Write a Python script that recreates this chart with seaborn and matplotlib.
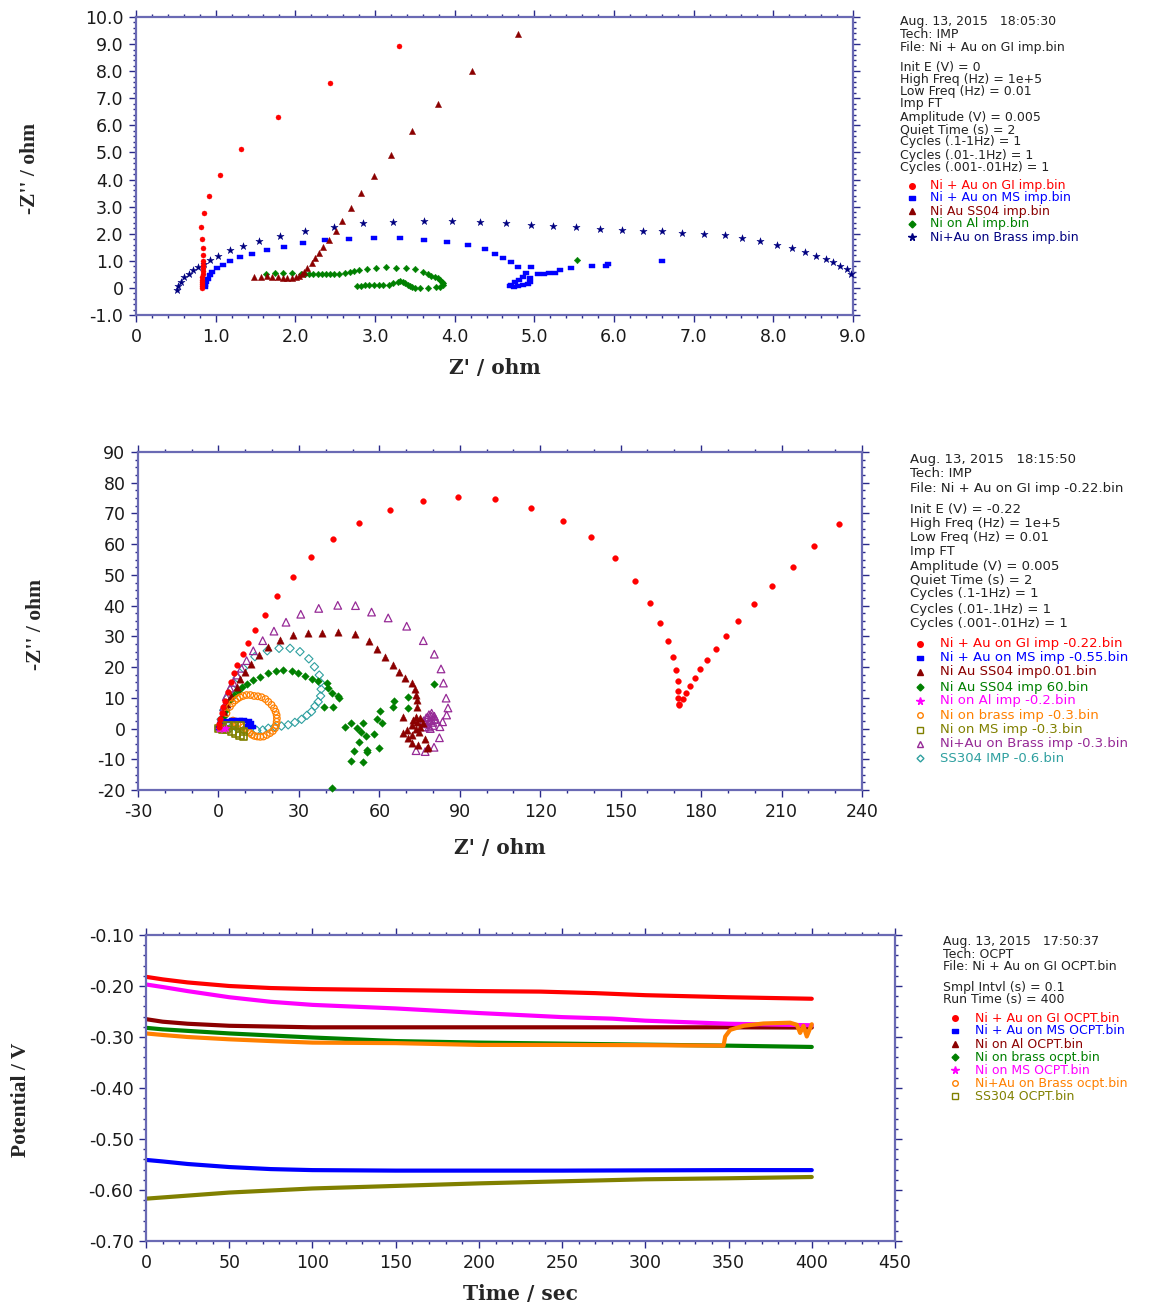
import matplotlib
matplotlib.use("Agg")
import matplotlib.pyplot as plt
from matplotlib.lines import Line2D
from matplotlib.ticker import MultipleLocator, FuncFormatter
import pandas as pd
import seaborn as sns

# ---------------- Nyquist plot 1 (Z' 0-9 ohm), (Z', -Z'') pairs ----------------
gi_imp = [(3.30, 8.93), (2.43, 7.57), (1.78, 6.30), (1.32, 5.13), (1.05, 4.16), (0.92, 3.38),
          (0.855, 2.75), (0.82, 2.24), (0.83, 1.80), (0.84, 1.48), (0.84, 1.21), (0.845, 1.00),
          (0.84, 0.86), (0.84, 0.73), (0.835, 0.61), (0.835, 0.50), (0.83, 0.40), (0.83, 0.31),
          (0.83, 0.22), (0.83, 0.14), (0.83, 0.07), (0.83, 0.0)]
ms_imp = [(0.86, 0.02), (0.87, 0.10), (0.88, 0.20), (0.90, 0.32), (0.93, 0.46), (0.96, 0.60),
          (1.02, 0.72), (1.09, 0.85), (1.18, 0.98), (1.30, 1.13), (1.46, 1.25), (1.64, 1.40),
          (1.86, 1.52), (2.10, 1.66), (2.37, 1.76), (2.67, 1.82), (2.99, 1.85), (3.31, 1.84),
          (3.61, 1.78), (3.90, 1.71), (4.17, 1.58), (4.38, 1.43), (4.50, 1.24), (4.61, 1.09),
          (4.71, 0.94), (4.80, 0.77), (4.96, 0.77), (4.90, 0.56), (4.86, 0.42), (4.81, 0.29),
          (4.76, 0.20), (4.71, 0.11), (4.70, 0.06), (4.74, 0.05), (4.80, 0.08), (4.86, 0.12),
          (4.92, 0.16), (4.95, 0.22), (4.94, 0.35), (5.04, 0.50), (5.12, 0.50), (5.19, 0.54),
          (5.26, 0.56), (5.32, 0.66), (5.46, 0.72), (5.73, 0.81), (5.90, 0.82), (5.92, 0.90),
          (6.60, 1.00)]
ss04_imp = [(1.48, 0.39), (1.57, 0.39), (1.64, 0.44), (1.71, 0.42), (1.78, 0.39), (1.84, 0.37),
            (1.90, 0.36), (1.96, 0.36), (2.01, 0.39), (2.05, 0.44), (2.08, 0.51), (2.11, 0.60),
            (2.15, 0.75), (2.21, 0.91), (2.25, 1.09), (2.30, 1.28), (2.35, 1.50), (2.42, 1.78),
            (2.51, 2.11), (2.59, 2.48), (2.70, 2.95), (2.83, 3.49), (2.99, 4.14), (3.20, 4.89),
            (3.46, 5.78), (3.79, 6.80), (4.22, 8.01), (4.79, 9.38)]
al_imp = [(1.63, 0.51), (1.74, 0.54), (1.85, 0.54), (1.96, 0.55), (2.07, 0.53), (2.12, 0.52),
          (2.17, 0.51), (2.22, 0.50), (2.28, 0.50), (2.33, 0.50), (2.38, 0.50), (2.43, 0.50),
          (2.48, 0.50), (2.55, 0.51), (2.62, 0.54), (2.68, 0.57), (2.74, 0.62), (2.80, 0.66),
          (2.90, 0.70), (3.01, 0.75), (3.14, 0.76), (3.26, 0.75), (3.39, 0.75), (3.50, 0.69),
          (3.60, 0.58), (3.66, 0.50), (3.70, 0.45), (3.75, 0.40), (3.79, 0.36), (3.82, 0.30),
          (3.84, 0.23), (3.85, 0.17), (3.85, 0.11), (3.82, 0.05), (3.77, 0.02), (3.67, 0.01),
          (3.56, 0.01), (3.50, 0.01), (3.47, 0.02), (3.44, 0.06), (3.41, 0.11), (3.38, 0.17),
          (3.35, 0.23), (3.32, 0.24), (3.29, 0.23), (3.23, 0.17), (3.17, 0.12), (3.10, 0.10),
          (3.05, 0.10), (2.99, 0.10), (2.93, 0.10), (2.87, 0.10), (2.82, 0.08), (2.78, 0.07),
          (5.54, 1.02)]
brass_imp = [(0.51, -0.08), (0.53, 0.07), (0.56, 0.23), (0.60, 0.41), (0.66, 0.53), (0.72, 0.66),
             (0.78, 0.76), (0.85, 0.88), (0.93, 1.03), (1.03, 1.19), (1.18, 1.39), (1.34, 1.55),
             (1.55, 1.74), (1.81, 1.93), (2.12, 2.11), (2.48, 2.26), (2.85, 2.38), (3.23, 2.44),
             (3.61, 2.47), (3.97, 2.47), (4.32, 2.44), (4.65, 2.41), (4.96, 2.32), (5.24, 2.29),
             (5.52, 2.24), (5.82, 2.17), (6.10, 2.14), (6.36, 2.11), (6.60, 2.09), (6.85, 2.04),
             (7.13, 1.99), (7.39, 1.94), (7.61, 1.84), (7.83, 1.73), (8.04, 1.58), (8.24, 1.46),
             (8.40, 1.31), (8.54, 1.18), (8.66, 1.07), (8.75, 0.94), (8.84, 0.81), (8.92, 0.69),
             (8.97, 0.51)]

# ---------------- Nyquist plot 2 (Z' -30-240 ohm) ----------------
gi_022 = [(0.1, 0.5), (0.3, 1.5), (0.7, 3.0), (1.2, 5.0), (1.8, 7.0), (2.5, 9.0), (3.5, 12.0),
          (4.5, 15.0), (5.7, 18.0), (7.0, 20.8), (9.0, 24.2), (11.0, 27.9), (13.7, 32.1),
          (17.2, 37.1), (21.9, 43.1), (27.7, 49.4), (34.5, 55.8), (42.8, 61.7), (52.5, 66.9),
          (63.9, 71.1), (76.2, 74.1), (89.5, 75.4), (103.3, 74.6), (116.7, 71.7), (128.6, 67.6),
          (139.0, 62.4), (147.9, 55.6), (155.4, 48.1), (161.0, 41.0), (164.8, 34.4), (167.6, 28.5),
          (169.4, 23.3), (170.8, 19.0), (171.2, 15.5), (171.5, 12.3), (171.5, 9.8), (171.6, 8.0),
          (171.9, 7.6), (173.1, 9.6), (174.4, 11.6), (175.9, 14.0), (177.6, 16.4), (179.7, 19.3),
          (182.3, 22.3), (185.6, 26.0), (189.3, 30.2), (193.9, 35.0), (199.8, 40.4), (206.5, 46.5),
          (214.2, 52.7), (222.2, 59.3), (231.3, 66.6)]
ms_055 = [(0.2, 0.3), (1.2, 2.2), (3.0, 2.6), (5.5, 2.8), (7.5, 2.9), (9.3, 2.8), (11.0, 2.3),
          (11.8, 1.7), (12.5, 0.4), (11.5, 0.8)]
ss04_001 = [(0.3, 1.0), (1.0, 3.0), (2.0, 5.5), (3.2, 8.0), (4.6, 10.5), (6.8, 13.6), (8.2, 16.0),
            (9.9, 18.3), (12.0, 21.0), (15.0, 23.9), (18.4, 26.6), (23.0, 28.8), (27.7, 30.3),
            (33.5, 31.0), (38.8, 31.2), (44.7, 31.5), (50.9, 30.8), (56.0, 28.6), (59.2, 25.9),
            (62.2, 23.2), (65.0, 20.7), (67.2, 18.5), (69.7, 16.6), (72.1, 14.9), (73.3, 12.8),
            (73.7, 10.9), (73.9, 9.3), (74.0, 7.0), (73.7, 3.7), (75.2, 3.3), (68.9, 3.9),
            (72.7, 2.8), (74.0, 2.2), (72.1, 1.2), (75.2, 0.6), (76.4, 1.7), (70.2, -0.5),
            (68.9, -1.5), (70.8, -3.2), (72.1, -4.8), (74.5, -5.3), (77.6, -6.4), (78.0, -6.0),
            (73.5, 0.0), (72.0, -2.0), (74.8, -1.0), (77.0, -3.5)]
ss04_60 = [(0.5, 1.0), (1.2, 2.5), (2.0, 4.0), (3.0, 6.0), (4.3, 9.3), (5.8, 11.0), (7.4, 12.3),
           (8.9, 13.6), (10.7, 14.5), (13.0, 15.8), (15.5, 16.9), (18.4, 18.0), (21.3, 18.8),
           (24.2, 19.1), (27.3, 18.8), (29.8, 18.0), (32.3, 17.1), (35.0, 16.2), (37.3, 15.5),
           (40.3, 14.7), (40.9, 13.1), (42.2, 11.5), (44.7, 10.6), (45.0, 10.0), (42.8, 7.1),
           (39.5, 7.1), (47.2, 0.4), (49.4, 1.9), (51.5, 0.1), (53.0, -1.2), (53.8, 1.7),
           (52.3, -4.3), (54.9, -2.4), (58.0, -1.9), (59.0, 3.0), (60.9, 1.7), (60.3, 5.8),
           (60.0, -6.4), (55.5, -7.0), (55.4, -7.5), (50.6, -7.3), (49.3, -10.5), (54.0, -11.0),
           (65.2, 7.1), (65.5, 9.0), (70.6, 6.6), (70.6, 10.2), (80.4, 14.4), (42.2, -19.2)]
al_02 = [(0.2, 0.0), (1.0, 0.3), (2.0, -0.2), (3.0, 0.1)]
brass_03 = [(0.5, 0.5), (1.5, 2.0), (3.0, 5.0), (4.3, 7.1), (5.2, 8.2), (6.2, 9.1), (7.1, 9.7),
            (8.0, 10.2), (9.2, 10.6), (10.5, 10.9), (11.9, 10.9), (13.3, 10.6), (14.7, 10.5),
            (16.1, 10.2), (17.5, 9.6), (18.6, 8.7), (19.8, 7.7), (20.7, 6.6), (21.3, 5.5),
            (21.7, 4.4), (21.8, 3.3), (21.7, 2.2), (21.5, 1.1), (21.1, 0.1), (20.3, -0.8),
            (19.2, -1.5), (18.0, -2.1), (16.8, -2.6), (15.6, -2.7), (14.5, -2.6), (13.4, -2.4),
            (12.5, -2.0), (11.7, -1.4), (11.0, -0.7), (10.2, -0.1), (9.4, 0.5), (8.2, 1.0),
            (7.0, 1.5), (6.2, 2.0), (5.4, 2.6)]
ms_03 = [(0.0, 0.0), (1.5, 0.8), (3.5, 1.0), (6.0, 1.0), (8.0, 0.8), (9.3, -1.0), (9.3, -2.5),
         (8.0, -2.3), (6.5, -1.5), (5.0, -0.8), (3.0, -0.3), (1.5, -0.1)]
au_brass_03 = [(0.3, 0.7), (1.0, 3.0), (2.0, 7.0), (2.9, 10.4), (4.3, 13.1), (5.5, 15.0),
               (7.0, 17.4), (8.6, 19.6), (10.5, 22.1), (13.0, 25.3), (16.5, 28.6), (20.7, 31.7),
               (25.2, 34.6), (30.7, 37.2), (37.4, 39.1), (44.5, 40.1), (51.1, 40.0), (57.1, 37.9),
               (63.3, 36.0), (70.2, 33.3), (76.4, 28.6), (80.5, 24.2), (83.0, 19.4), (83.9, 14.8),
               (84.9, 9.9), (85.6, 6.7), (85.1, 4.4), (83.6, 2.2), (82.6, 0.6), (82.4, -3.0),
               (80.4, -6.1), (77.1, -7.5), (73.7, -7.2), (79.5, 5.0), (80.5, 4.0), (78.0, 3.7),
               (77.0, 2.0), (79.0, 2.5), (80.0, 1.0), (78.5, 0.5), (81.0, 3.0), (76.5, 2.5),
               (77.5, 3.5), (78.5, 4.5), (79.5, 4.0), (80.5, 3.0), (78.0, 1.5), (77.0, 0.5),
               (79.0, 0.0), (80.0, 2.0)]
ss304_06 = [(0.3, 0.5), (1.0, 3.0), (2.0, 6.0), (3.5, 10.0), (5.0, 13.0), (7.0, 16.5), (9.3, 19.6),
            (13.6, 23.4), (18.2, 25.3), (22.6, 26.1), (26.7, 26.1), (30.4, 25.0), (33.7, 22.7),
            (35.8, 20.1), (37.6, 17.4), (38.0, 15.0), (38.3, 12.8), (38.1, 10.6), (37.2, 8.7),
            (36.0, 7.3), (34.7, 5.5), (33.0, 4.3), (31.0, 3.0), (28.5, 2.0), (26.0, 1.2),
            (23.5, 0.8), (21.0, 0.6), (18.6, 0.1), (16.5, -0.5), (14.3, -0.6), (11.8, -1.1),
            (9.4, -0.5), (7.0, 0.0), (4.5, 0.3), (2.5, 0.3)]

# ---------------- Open-circuit potential vs time (t in s, E in V) ----------------
gi_ocpt = [(0, -0.182), (10, -0.187), (25, -0.193), (50, -0.200), (75, -0.204), (100, -0.206),
           (150, -0.208), (200, -0.210), (237, -0.211), (270, -0.214), (300, -0.218),
           (350, -0.222), (400, -0.225)]
ms_ocpt = [(0, -0.541), (10, -0.544), (25, -0.549), (50, -0.555), (75, -0.559), (100, -0.561),
           (150, -0.562), (200, -0.562), (250, -0.562), (300, -0.5615), (350, -0.561), (400, -0.561)]
al_ocpt = [(0, -0.265), (10, -0.270), (25, -0.274), (50, -0.278), (75, -0.2795), (100, -0.281),
           (150, -0.281), (200, -0.281), (250, -0.281), (300, -0.281), (350, -0.281), (400, -0.2815)]
brass_ocpt = [(0, -0.282), (10, -0.285), (25, -0.288), (50, -0.293), (75, -0.297), (100, -0.301),
              (150, -0.308), (200, -0.311), (250, -0.313), (300, -0.315), (350, -0.317), (400, -0.3195)]
ni_ms_ocpt = [(0, -0.197), (10, -0.202), (25, -0.210), (50, -0.222), (75, -0.231), (100, -0.237),
              (150, -0.244), (200, -0.253), (250, -0.261), (280, -0.264), (300, -0.268),
              (350, -0.274), (400, -0.277)]
au_brass_ocpt = [(0, -0.293), (10, -0.296), (25, -0.300), (50, -0.3045), (75, -0.308), (100, -0.311),
                 (150, -0.312), (200, -0.3155), (250, -0.3155), (300, -0.316), (347, -0.317),
                 (348, -0.299), (351, -0.286), (359, -0.278), (371, -0.2735), (387, -0.272),
                 (391, -0.276), (393, -0.292), (395, -0.278), (397, -0.299), (399, -0.283),
                 (400, -0.275)]
ss304_ocpt = [(0, -0.617), (25, -0.611), (50, -0.605), (75, -0.601), (100, -0.597), (150, -0.592),
              (200, -0.587), (237, -0.584), (300, -0.579), (350, -0.577), (400, -0.5745)]

# ---------------- Styling ----------------
RED, BLUE, MAROON, GREEN = "#ff0000", "#0000ff", "#8b0000", "#008000"
NAVY, MAGENTA, ORANGE, OLIVE = "#000080", "#ff00ff", "#ff8000", "#808000"
PURPLE, TEAL = "#962a96", "#2fa0a0"
SPINE, TICK, INFO = "#6a6ab4", "#2a2a8a", "#222222"
RECT = [(-1.4, -0.9), (1.4, -0.9), (1.4, 0.9), (-1.4, 0.9), (-1.4, -0.9)]

sns.set_style("ticks")
plt.rcParams["font.family"] = ["DejaVu Sans"]

W, H = 1161, 1304
fig = plt.figure(figsize=(W / 100, H / 100), dpi=100)


def fx(px):
    return px / W


def fy(py):
    return 1 - py / H


def axes_px(left, right, top, bottom):
    return fig.add_axes([fx(left), fy(bottom), (right - left) / W, (bottom - top) / H])


def scatter(ax, pts, color, marker, size, filled=True, lw=0.9):
    df = pd.DataFrame(pts, columns=["x", "y"])
    if filled:
        sns.scatterplot(data=df, x="x", y="y", ax=ax, color=color, marker=marker, s=size,
                        edgecolor=color, linewidth=0.3, legend=False, zorder=3, clip_on=False)
    else:
        sns.scatterplot(data=df, x="x", y="y", ax=ax, color=color, marker=marker, s=size,
                        facecolor="none", edgecolor=color, linewidth=lw, legend=False, zorder=3,
                        clip_on=False)


def style_axes(ax, xmaj, xmin, ymaj, ymin, xfmt, yfmt):
    for sp in ax.spines.values():
        sp.set_visible(True)
        sp.set_color(SPINE)
        sp.set_linewidth(1.6)
    ax.xaxis.set_major_locator(MultipleLocator(xmaj))
    ax.xaxis.set_minor_locator(MultipleLocator(xmin))
    ax.yaxis.set_major_locator(MultipleLocator(ymaj))
    ax.yaxis.set_minor_locator(MultipleLocator(ymin))
    ax.xaxis.set_major_formatter(FuncFormatter(xfmt))
    ax.yaxis.set_major_formatter(FuncFormatter(yfmt))
    ax.tick_params(which="both", direction="out", top=True, right=True, bottom=True, left=True,
                   labeltop=False, labelright=False, color=TICK, width=1.0)
    ax.tick_params(which="major", length=5, pad=4, labelsize=12.5, labelcolor="#1a1a1a")
    ax.tick_params(which="minor", length=2.5)
    ax.grid(False)
    ax.set_facecolor("white")


def set_labels(ax, xl, yl, xpos, ypos):
    ax.set_xlabel(xl, family="DejaVu Serif", fontweight="bold", fontsize=14.5)
    ax.set_ylabel(yl, family="Liberation Serif", fontweight="bold", fontsize=15.5)
    ax.xaxis.set_label_coords(*xpos)
    ax.yaxis.set_label_coords(*ypos)
    ax.xaxis.label.set_va("center")
    ax.yaxis.label.set_va("center")


def info_block(x_px, lines, ys, entries, mx_px, tx_px, eys, size=9.0):
    for s, y in zip(lines, ys):
        fig.text(fx(x_px), fy(y), s, fontsize=size, color=INFO, va="center", ha="left")
    for (label, color, marker, filled, ms), y in zip(entries, eys):
        fig.add_artist(Line2D([fx(mx_px)], [fy(y)], transform=fig.transFigure, linestyle="none",
                              marker=marker, markersize=ms, color=color,
                              markerfacecolor=color if filled else "none",
                              markeredgecolor=color, markeredgewidth=1.0))
        fig.text(fx(tx_px), fy(y), label, fontsize=size, color=color, va="center", ha="left")


one_dec = lambda v, p: "0" if abs(v) < 1e-9 else f"{v:.1f}"
integer = lambda v, p: f"{v:.0f}"
two_dec = lambda v, p: f"{v:.2f}"

# ---------------- Panel 1 ----------------
ax1 = axes_px(136, 853, 17, 315)
scatter(ax1, al_imp, GREEN, "D", 11)
scatter(ax1, brass_imp, NAVY, "*", 30)
scatter(ax1, ms_imp, BLUE, RECT, 22)
scatter(ax1, ss04_imp, MAROON, "^", 20)
scatter(ax1, gi_imp, RED, "o", 13)
ax1.set_xlim(0, 9)
ax1.set_ylim(-1, 10)
style_axes(ax1, 1, 0.2, 1, 0.2, one_dec, one_dec)
set_labels(ax1, "Z' / ohm", "-Z'' / ohm", (0.5, -0.178), (-0.148, 0.49))

info_block(900,
           ["Aug. 13, 2015   18:05:30", "Tech: IMP", "File: Ni + Au on GI imp.bin",
            "Init E (V) = 0", "High Freq (Hz) = 1e+5", "Low Freq (Hz) = 0.01", "Imp FT",
            "Amplitude (V) = 0.005", "Quiet Time (s) = 2", "Cycles (.1-1Hz) = 1",
            "Cycles (.01-.1Hz) = 1", "Cycles (.001-.01Hz) = 1"],
           [22, 35, 47, 67, 79, 91, 104, 117, 130, 142, 155, 168],
           [("Ni + Au on GI imp.bin", RED, "o", True, 4),
            ("Ni + Au on MS imp.bin", BLUE, RECT, True, 5),
            ("Ni Au SS04 imp.bin", MAROON, "^", True, 4.5),
            ("Ni on Al imp.bin", GREEN, "D", True, 3.5),
            ("Ni+Au on Brass imp.bin", NAVY, "*", True, 5.5)],
           912, 930, [186, 198, 211, 224, 237], size=9.0)

# ---------------- Panel 2 ----------------
ax2 = axes_px(138, 862, 452, 790)
scatter(ax2, ss304_06, TEAL, "D", 18, filled=False, lw=0.8)
scatter(ax2, au_brass_03, PURPLE, "^", 30, filled=False, lw=0.9)
scatter(ax2, ss04_60, GREEN, "D", 15)
scatter(ax2, ss04_001, MAROON, "^", 28)
scatter(ax2, brass_03, ORANGE, "o", 22, filled=False, lw=0.9)
scatter(ax2, ms_055, BLUE, RECT, 28)
scatter(ax2, ms_03, OLIVE, "s", 28, filled=False, lw=1.2)
scatter(ax2, al_02, MAGENTA, "*", 30)
scatter(ax2, gi_022, RED, "o", 17)
ax2.set_xlim(-30, 240)
ax2.set_ylim(-20, 90)
style_axes(ax2, 30, 10, 10, 2.5, integer, integer)
set_labels(ax2, "Z' / ohm", "-Z'' / ohm", (0.5, -0.172), (-0.141, 0.49))

info_block(910,
           ["Aug. 13, 2015   18:15:50", "Tech: IMP", "File: Ni + Au on GI imp -0.22.bin",
            "Init E (V) = -0.22", "High Freq (Hz) = 1e+5", "Low Freq (Hz) = 0.01", "Imp FT",
            "Amplitude (V) = 0.005", "Quiet Time (s) = 2", "Cycles (.1-1Hz) = 1",
            "Cycles (.01-.1Hz) = 1", "Cycles (.001-.01Hz) = 1"],
           [459, 473, 488, 509, 523, 537, 551, 566, 580, 594, 609, 623],
           [("Ni + Au on GI imp -0.22.bin", RED, "o", True, 4),
            ("Ni + Au on MS imp -0.55.bin", BLUE, RECT, True, 5),
            ("Ni Au SS04 imp0.01.bin", MAROON, "^", True, 4.5),
            ("Ni Au SS04 imp 60.bin", GREEN, "D", True, 3.5),
            ("Ni on Al imp -0.2.bin", MAGENTA, "*", True, 5.5),
            ("Ni on brass imp -0.3.bin", ORANGE, "o", False, 4),
            ("Ni on MS imp -0.3.bin", OLIVE, "s", False, 4.5),
            ("Ni+Au on Brass imp -0.3.bin", PURPLE, "^", False, 4.5),
            ("SS304 IMP -0.6.bin", TEAL, "D", False, 3.5)],
           920, 940, [644, 658, 672, 687, 701, 715, 730, 744, 758], size=9.5)

# ---------------- Panel 3 ----------------
ax3 = axes_px(146, 895, 935, 1241)
ocpt_series = [("Ni + Au on GI OCPT.bin", gi_ocpt, RED),
               ("Ni + Au on MS OCPT.bin", ms_ocpt, BLUE),
               ("Ni on Al OCPT.bin", al_ocpt, MAROON),
               ("Ni on brass ocpt.bin", brass_ocpt, GREEN),
               ("Ni on MS OCPT.bin", ni_ms_ocpt, MAGENTA),
               ("Ni+Au on Brass ocpt.bin", au_brass_ocpt, ORANGE),
               ("SS304 OCPT.bin", ss304_ocpt, OLIVE)]
frames = []
for name, pts, _ in ocpt_series:
    d = pd.DataFrame(pts, columns=["t", "E"])
    d["file"] = name
    frames.append(d)
ocpt = pd.concat(frames, ignore_index=True)
sns.lineplot(data=ocpt, x="t", y="E", hue="file",
             palette={n: c for n, _, c in ocpt_series},
             hue_order=[n for n, _, _ in ocpt_series],
             estimator=None, sort=False, linewidth=3.0, legend=False, ax=ax3)
ax3.set_xlim(0, 450)
ax3.set_ylim(-0.70, -0.10)
style_axes(ax3, 50, 10, 0.1, 0.02, integer, two_dec)
set_labels(ax3, "Time / sec", "Potential / V", (0.4993, -0.173), (-0.167, 0.46))

info_block(943,
           ["Aug. 13, 2015   17:50:37", "Tech: OCPT", "File: Ni + Au on GI OCPT.bin",
            "Smpl Intvl (s) = 0.1", "Run Time (s) = 400"],
           [942, 954, 967, 987, 999],
           [("Ni + Au on GI OCPT.bin", RED, "o", True, 4),
            ("Ni + Au on MS OCPT.bin", BLUE, RECT, True, 5),
            ("Ni on Al OCPT.bin", MAROON, "^", True, 4.5),
            ("Ni on brass ocpt.bin", GREEN, "D", True, 3.5),
            ("Ni on MS OCPT.bin", MAGENTA, "*", True, 5.5),
            ("Ni+Au on Brass ocpt.bin", ORANGE, "o", False, 4),
            ("SS304 OCPT.bin", OLIVE, "s", False, 4.5)],
           955, 975, [1018, 1031, 1044, 1057, 1070, 1083, 1096], size=9.0)

fig.savefig("out.png", dpi=100, facecolor="white")
